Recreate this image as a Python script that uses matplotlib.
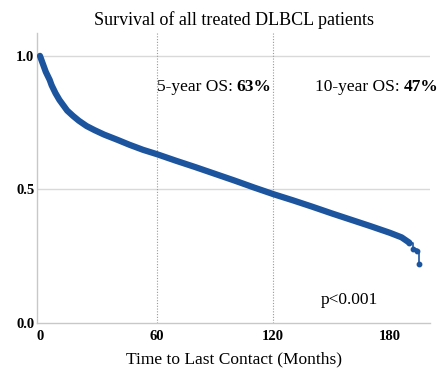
import matplotlib.pyplot as plt
import numpy as np

plt.rcParams['font.family'] = 'Liberation Serif'

# Kaplan-Meier estimate
months = [0, 1, 2, 3, 4, 5, 6, 8, 10, 12, 14, 17, 20, 24, 28, 33, 40, 46, 53, 60,
          70, 80, 90, 100, 110, 120, 130, 140, 150, 160, 170, 180, 186, 190]
surv = [1.0, 0.98, 0.96, 0.94, 0.925, 0.91, 0.89, 0.86, 0.835, 0.815, 0.795, 0.775, 0.757,
        0.737, 0.722, 0.705, 0.685, 0.667, 0.648, 0.632, 0.607, 0.583, 0.558, 0.533, 0.507,
        0.482, 0.459, 0.435, 0.41, 0.386, 0.362, 0.337, 0.32, 0.30]
tail_months = [190, 192, 194, 195]
tail_surv = [0.30, 0.275, 0.27, 0.22]

xticks = [0, 60, 120, 180]
yticks = [0.0, 0.5, 1.0]
landmarks = [60, 120]

blue = '#1c559e'

fig, ax = plt.subplots(figsize=(4.41, 3.74), dpi=100)
fig.subplots_adjust(left=0.084, right=0.975, bottom=0.137, top=0.912)

ax.plot(months, surv, color=blue, lw=4.5, solid_capstyle='round', zorder=3)
ax.plot(tail_months, tail_surv, color=blue, lw=1.2, drawstyle='steps-post', zorder=3)
ax.plot(tail_months, tail_surv, ls='none', marker='o', ms=3.2, color=blue, zorder=4)

for m in landmarks:
    ax.axvline(m, color='#9a9a9a', lw=0.8, ls=(0, (1, 1.5)), zorder=1)
for v in [0.5, 1.0]:
    ax.axhline(v, color='#d9d9d9', lw=1.0, zorder=0)

ax.set_xlim(-1.5, 200.6)
ax.set_ylim(0, 1.086)
ax.set_xticks(xticks)
ax.set_yticks(yticks)
ax.set_xticklabels([str(t) for t in xticks], fontweight='bold', fontsize=10.5)
ax.set_yticklabels(['%.1f' % t for t in yticks], fontweight='bold', fontsize=10.5)
ax.tick_params(length=0, pad=2)
ax.tick_params(axis='x', pad=5)

for s in ['top', 'right']:
    ax.spines[s].set_visible(False)
for s in ['left', 'bottom']:
    ax.spines[s].set_color('#c8c8c8')
    ax.spines[s].set_linewidth(1.0)

ax.set_title('Survival of all treated DLBCL patients', fontsize=13, pad=6)
ax.set_xlabel('Time to Last Contact (Months)', fontsize=12.5, labelpad=6)

t1 = ax.text(60, 0.885, '5-year OS: ', fontsize=12.5, va='center', ha='left')
ax.annotate('63%', xy=(1, 0.5), xycoords=t1, va='center', ha='left',
            fontsize=12.5, fontweight='bold')
t2 = ax.text(141.5, 0.885, '10-year OS: ', fontsize=12.5, va='center', ha='left')
ax.annotate('47%', xy=(1, 0.5), xycoords=t2, va='center', ha='left',
            fontsize=12.5, fontweight='bold')
ax.text(144.5, 0.085, 'p<0.001', fontsize=12.5, va='center', ha='left')

plt.savefig('out.png', dpi=100)
